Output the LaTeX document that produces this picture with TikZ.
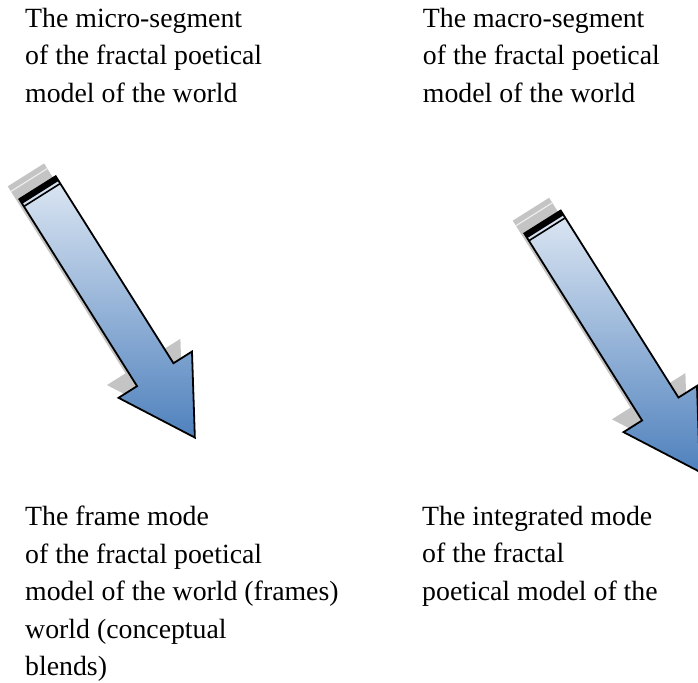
\documentclass[tikz,border=0pt]{standalone}
\usepackage{fontspec}
\setmainfont{Liberation Serif}
\usetikzlibrary{calc}
\definecolor{arrtop}{RGB}{221,231,243}
\definecolor{arrbot}{RGB}{79,129,189}
\definecolor{shad}{RGB}{196,196,196}
\tikzset{
  lbl/.style={anchor=north west, inner sep=0pt, align=left, font=\fontsize{27.8}{37.5}\selectfont},
  arrowline/.style={draw=black, line width=1.8pt, line join=miter},
}
\newcommand\myblockarrow[3]{%
  \begin{scope}[shift={(#2,#3)}, rotate=-57.8]
    \begin{scope}[shift={(-17,-3)}]
      \fill[shad] (0,21.5) -- (221,21.5) -- (221,43.4) -- (295.3,0) -- (221,-43.4) -- (221,-21.5) -- (0,-21.5) -- cycle;
      \draw[white!70!shad, line width=1.2pt] (6,21.5) -- (6,-21.5);
    \end{scope}
    \coordinate (#1s1) at (0,21.5);
    \coordinate (#1s2) at (221,21.5);
    \coordinate (#1b1) at (221,43.4);
    \coordinate (#1tip) at (295.3,0);
    \coordinate (#1b2) at (221,-43.4);
    \coordinate (#1s3) at (221,-21.5);
    \coordinate (#1s4) at (0,-21.5);
    \coordinate (#1k1) at (5.5,21.5);
    \coordinate (#1k2) at (5.5,-21.5);
    \coordinate (#1w1) at (8.6,21.5);
    \coordinate (#1w2) at (8.6,-21.5);
  \end{scope}
  \fill[top color=arrtop, bottom color=arrbot] (#1s1) -- (#1s2) -- (#1b1) -- (#1tip) -- (#1b2) -- (#1s3) -- (#1s4) -- cycle;
  \fill[black] (#1s1) -- (#1k1) -- (#1k2) -- (#1s4) -- cycle;
  \draw[black, line width=1.6pt] (#1w1) -- (#1w2);
  \draw[arrowline] (#1s1) -- (#1s2) -- (#1b1) -- (#1tip) -- (#1b2) -- (#1s3) -- (#1s4) -- cycle;
}
\begin{document}
\begin{tikzpicture}[x=1pt,y=1pt]
  \useasboundingbox (0,0) rectangle (698,682);
  \myblockarrow{L}{37.5}{494.3}
  \myblockarrow{R}{542.5}{460}
  \node[lbl] (tl) at (25,674.3) {The micro-segment\\of the fractal poetical\\model of the world};
  \node[lbl] (tr) at (422.7,674.3) {The macro-segment\\of the fractal poetical\\model of the world};
  \node[lbl] (bl) at (25,176) {The frame mode\\of the fractal poetical\\model of the world (frames)\\world (conceptual\\blends)};
  \node[lbl] (br) at (422,176) {The integrated mode\\of the fractal\\poetical model of the};
\end{tikzpicture}
\end{document}
